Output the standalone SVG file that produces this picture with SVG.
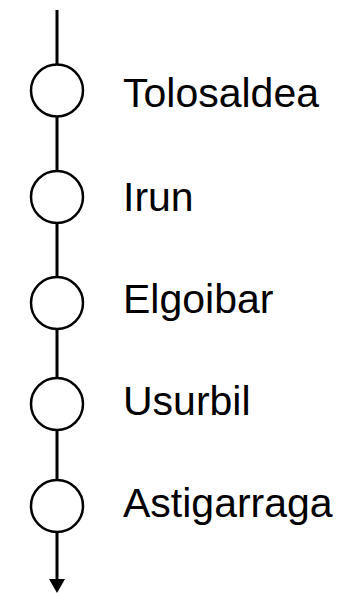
<svg xmlns="http://www.w3.org/2000/svg" width="356" height="593" viewBox="0 0 356 593">
<style>
.n{fill:#fff;stroke:#000;stroke-width:2.5}
.l{stroke:#000;stroke-width:3;fill:none}
.t{font-family:"Liberation Sans",Arial,sans-serif;font-size:41px;fill:#000}
</style>
<g id="connectors">
<line class="l" x1="57" y1="10" x2="57" y2="580"/>
<polygon points="49,579 65,579 57,593" fill="#000"/>
</g>
<g id="n1"><circle class="n" cx="57" cy="90.5" r="26"/><text class="t" x="123" y="107">Tolosaldea</text></g>
<g id="n2"><circle class="n" cx="57" cy="197" r="26"/><text class="t" x="123" y="211">Irun</text></g>
<g id="n3"><circle class="n" cx="57" cy="303" r="26"/><text class="t" x="123" y="313">Elgoibar</text></g>
<g id="n4"><circle class="n" cx="57" cy="404" r="26"/><text class="t" x="123" y="415">Usurbil</text></g>
<g id="n5"><circle class="n" cx="57" cy="506" r="26"/><text class="t" x="123" y="516.5">Astigarraga</text></g>
</svg>
